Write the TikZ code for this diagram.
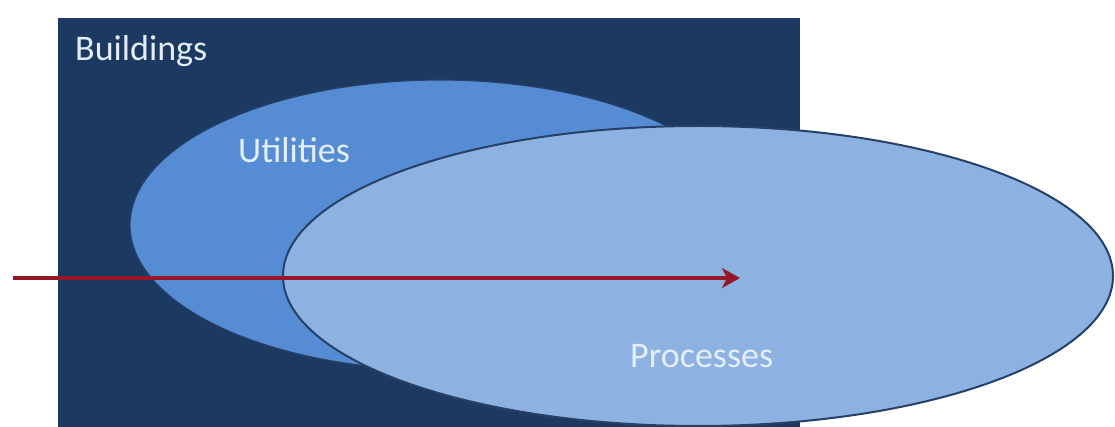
\documentclass[tikz,border=0pt]{standalone}
\usepackage{fontspec}
\setmainfont{Carlito}
\usetikzlibrary{shapes.geometric,arrows.meta}
\definecolor{bldg}{RGB}{28,57,98}
\definecolor{util}{RGB}{85,140,212}
\definecolor{proc}{RGB}{141,178,226}
\definecolor{rim}{RGB}{38,64,104}
\definecolor{flow}{RGB}{150,24,40}
\definecolor{labeltext}{RGB}{228,238,248}
\tikzset{
  zone/.style={ellipse, draw=rim, inner sep=0pt},
  label text/.style={font=\fontsize{36}{40}\selectfont, text=labeltext, inner sep=0pt},
  flow arrow/.style={draw=flow, line width=4.5pt, -{Stealth[length=18pt,width=20pt,inset=5pt]}}
}
\begin{document}
\begin{tikzpicture}[x=1pt,y=1pt]
  \useasboundingbox (0,0) rectangle (1115,427);
  % outer block
  \fill[bldg] (58,-2) rectangle (800,409);
  % overlapping zones
  \node[zone, fill=util, line width=1.2pt, minimum width=620pt, minimum height=290pt] (utilities) at (440,202) {};
  \node[zone, fill=proc, line width=2pt, minimum width=830pt, minimum height=300pt] (processes) at (698,151) {};
  % labels
  \node[label text, anchor=base west] (buildingsLabel) at (75,366) {Buildings};
  \node[label text, anchor=base west] (utilitiesLabel) at (238,264) {Utilities};
  \node[label text, anchor=base west] (processesLabel) at (630,59) {Processes};
  % flow arrow
  \coordinate (flowStart) at (13,149);
  \coordinate (flowEnd) at (740,149);
  \draw[flow arrow] (flowStart) -- (flowEnd);
\end{tikzpicture}
\end{document}
